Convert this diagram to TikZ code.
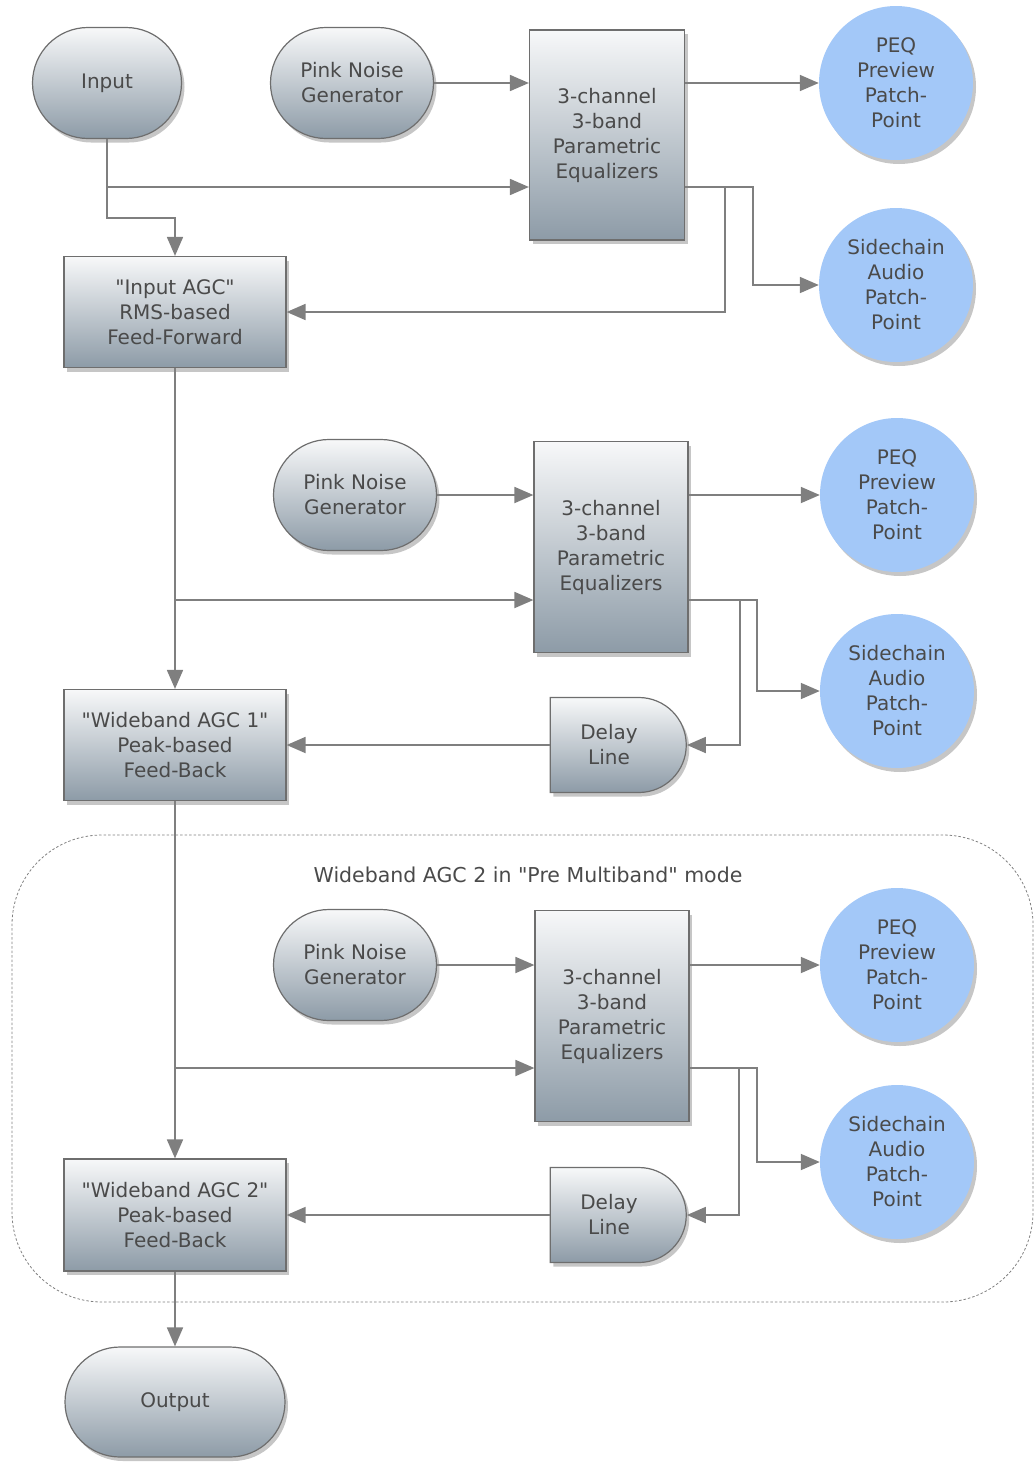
\documentclass[tikz,border=0pt]{standalone}
\usepackage{fontspec}
\setmainfont{DejaVu Sans}[Ligatures=TeXOff]
\usetikzlibrary{arrows.meta,shadows,shapes.misc,calc}
\definecolor{txt}{HTML}{4A4A4A}
\definecolor{wire}{HTML}{7F7F7F}
\definecolor{edge}{HTML}{6E6E6E}
\definecolor{gtop}{HTML}{F7F8F9}
\definecolor{gbot}{HTML}{8D9BA7}
\definecolor{patch}{HTML}{A3C8F8}
\tikzset{
  base/.style={font=\fontsize{20}{25}\selectfont, text=txt, align=center, inner sep=0pt,
     drop shadow={shadow xshift=3pt, shadow yshift=-4pt, opacity=0.45, fill=gray}},
  grad/.style={base, draw=edge, line width=1.2pt, top color=gtop, bottom color=gbot},
  boxnode/.style={grad, rectangle},
  pillnode/.style={grad, rounded rectangle},
  delaynode/.style={grad, rounded rectangle, rounded rectangle west arc=none, minimum width=136pt, minimum height=95pt},
  patchnode/.style={base, circle, fill=patch, minimum size=154pt},
  arr/.style={draw=wire, line width=1.8pt, -{Triangle[length=19pt,width=16pt]}, fill=none},
  groupbox/.style={draw=gray, dash pattern=on 2.5pt off 2pt, line width=0.8pt, rounded corners=90pt, minimum width=1021pt, minimum height=467pt},
}
\begin{document}
\begin{tikzpicture}[x=1pt,y=-1pt]
\useasboundingbox (0,0) rectangle (1036,1462);
% group
\node[groupbox] (grp) at (522.5,1068.5) {};
\node[font=\fontsize{20.5}{25}\selectfont, text=txt] (title) at (528,875) {Wideband AGC 2 in "Pre Multiband" mode};
% top section
\node[pillnode, minimum width=149pt, minimum height=111pt] (input) at (107,83) {Input};
\node[pillnode, minimum width=163pt, minimum height=111pt] (pn1) at (352,83) {Pink Noise\\Generator};
\node[boxnode, minimum width=155pt, minimum height=210pt] (peq1) at (607,135) {3-channel\\3-band\\Parametric\\Equalizers};
\node[patchnode] (pp1) at (896,83) {PEQ\\Preview\\Patch-\\Point};
\node[patchnode] (sc1) at (896,285) {Sidechain\\Audio\\Patch-\\Point};
\node[boxnode, minimum width=222pt, minimum height=111pt] (iagc) at (175,312) {"Input AGC"\\RMS-based\\Feed-Forward};
% middle
\node[pillnode, minimum width=163pt, minimum height=111pt] (pn2) at (355,495) {Pink Noise\\Generator};
\node[boxnode, minimum width=154pt, minimum height=211pt] (peq2) at (611,547) {3-channel\\3-band\\Parametric\\Equalizers};
\node[patchnode] (pp2) at (897,495) {PEQ\\Preview\\Patch-\\Point};
\node[patchnode] (sc2) at (897,691) {Sidechain\\Audio\\Patch-\\Point};
\node[delaynode] (dl1) at (616,745) {Delay\hspace*{14pt}\\Line\hspace*{14pt}};
\node[boxnode, minimum width=222pt, minimum height=111pt] (agc1) at (175,745) {"Wideband AGC 1"\\Peak-based\\Feed-Back};
% bottom
\node[pillnode, minimum width=163pt, minimum height=111pt] (pn3) at (355,965) {Pink Noise\\Generator};
\node[boxnode, minimum width=154pt, minimum height=211pt] (peq3) at (612,1016) {3-channel\\3-band\\Parametric\\Equalizers};
\node[patchnode] (pp3) at (897,965) {PEQ\\Preview\\Patch-\\Point};
\node[patchnode] (sc3) at (897,1162) {Sidechain\\Audio\\Patch-\\Point};
\node[delaynode] (dl2) at (616,1215) {Delay\hspace*{14pt}\\Line\hspace*{14pt}};
\node[boxnode, minimum width=222pt, minimum height=112pt] (agc2) at (175,1215) {"Wideband AGC 2"\\Peak-based\\Feed-Back};
\node[pillnode, minimum width=220pt, minimum height=110pt] (out) at (175,1402) {Output};
% junction coordinates
\coordinate (c1) at (107,187);
\coordinate (c2) at (107,218);
\coordinate (fb1) at (725,312);
\coordinate (c3) at (175,600);
\coordinate (c4) at (175,1068);
% top connectors
\draw[arr] (pn1.east) -- (pn1.east -| peq1.west);
\draw[arr] (input.south) -- (c1) -- (c1 -| peq1.west);
\draw[arr] (c1) -- (c2) -| (iagc.north);
\draw[arr] (pp1.west -| peq1.east) -- (pp1.west);
\draw[arr] (c1 -| peq1.east) -| ($(sc1.west)+(-66,0)$) -- (sc1.west);
\draw[arr] (c1 -| peq1.east) -| (fb1) -- (iagc.east);
% middle connectors
\draw[arr] (iagc.south) -- (agc1.north);
\draw[arr] (c3) -- (c3 -| peq2.west);
\draw[arr] (pn2.east) -- (pn2.east -| peq2.west);
\draw[arr] (pp2.west -| peq2.east) -- (pp2.west);
\draw[arr] (c3 -| peq2.east) -| ($(sc2.west)+(-63,0)$) -- (sc2.west);
\draw[arr] (c3 -| peq2.east) -| ($(dl1.east)+(53,0)$) -- (dl1.east);
\draw[arr] (dl1.west) -- (agc1.east);
% bottom connectors
\draw[arr] (agc1.south) -- (agc2.north);
\draw[arr] (c4) -- (c4 -| peq3.west);
\draw[arr] (pn3.east) -- (pn3.east -| peq3.west);
\draw[arr] (pp3.west -| peq3.east) -- (pp3.west);
\draw[arr] (c4 -| peq3.east) -| ($(sc3.west)+(-63,0)$) -- (sc3.west);
\draw[arr] (c4 -| peq3.east) -| ($(dl2.east)+(52,0)$) -- (dl2.east);
\draw[arr] (dl2.west) -- (agc2.east);
\draw[arr] (agc2.south) -- (out.north);
\end{tikzpicture}
\end{document}
